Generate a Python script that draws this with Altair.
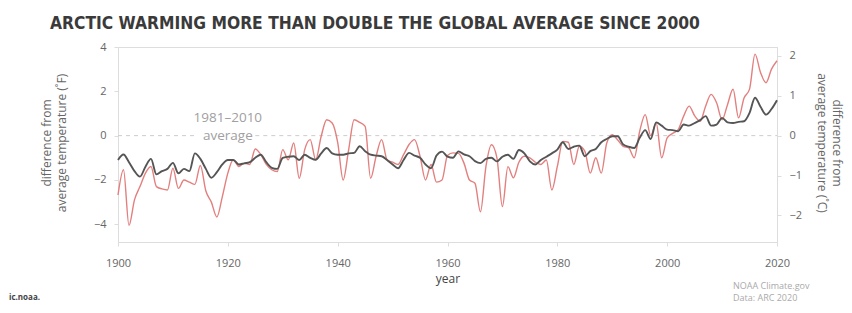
import altair as alt
import pandas as pd

years = list(range(1900, 2021))

global_f = [
    -1.10, -0.85, -1.20, -1.60, -1.85, -1.40, -1.05, -1.75, -1.60, -1.50,
    -1.23, -1.70, -1.50, -1.60, -0.80, -1.05, -1.50, -1.90, -1.65, -1.30,
    -1.10, -1.10, -1.30, -1.25, -1.20, -1.00, -0.86, -1.20, -1.45, -1.50,
    -1.00, -0.95, -0.93, -1.10, -0.86, -1.00, -1.09, -0.80, -0.56, -0.80,
    -0.86, -0.86, -0.80, -0.78, -0.48, -0.70, -0.86, -0.90, -0.93, -1.10,
    -1.30, -1.47, -1.10, -0.78, -0.90, -1.00, -1.30, -1.47, -0.90, -0.72,
    -0.95, -1.00, -0.71, -0.85, -0.93, -1.15, -1.24, -1.05, -1.00, -1.16,
    -0.95, -0.86, -1.05, -0.65, -0.80, -1.16, -1.30, -1.10, -0.95, -0.80,
    -0.63, -0.30, -0.60, -0.50, -0.45, -0.93, -0.70, -0.60, -0.30, -0.15,
    -0.03, -0.03, -0.40, -0.50, -0.56, -0.10, 0.25, -0.15, 0.60, 0.45,
    0.27, 0.25, 0.20, 0.50, 0.45, 0.57, 0.70, 0.88, 0.45, 0.50,
    0.80, 0.60, 0.57, 0.62, 0.65, 1.03, 1.71, 1.30, 0.95, 1.20,
    1.60,
]

arctic_f = [
    -2.68, -1.54, -4.05, -2.90, -2.30, -1.69, -1.39, -2.30, -2.40, -2.45,
    -1.47, -2.38, -2.00, -2.10, -2.20, -1.35, -2.50, -3.00, -3.67, -2.75,
    -1.69, -1.09, -1.39, -1.24, -1.30, -0.60, -0.86, -1.30, -1.54, -1.62,
    -0.63, -1.09, -0.33, -1.92, -0.63, -0.18, -1.09, -0.03, 0.72, 0.57,
    -0.30, -2.00, -0.63, 0.72, 0.60, 0.42, -1.92, -0.93, -0.18, -1.09,
    -1.20, -1.30, -0.86, -0.40, -0.18, -0.93, -2.00, -1.30, -2.10, -2.00,
    -0.90, -0.78, -0.80, -1.24, -2.00, -2.15, -3.44, -1.39, -0.41, -1.00,
    -3.20, -1.40, -1.90, -1.20, -0.93, -1.00, -1.20, -1.30, -1.10, -2.45,
    -1.39, -0.26, -0.30, -1.30, -0.48, -0.70, -1.69, -1.00, -1.69, -0.33,
    0.04, -0.20, -0.48, -0.55, -1.00, 0.20, 0.95, 0.00, 0.57, -1.00,
    -0.10, 0.10, 0.27, 0.88, 1.33, 0.90, 0.65, 1.33, 1.86, 1.48,
    0.72, 1.41, 2.09, 0.80, 1.70, 2.10, 3.68, 2.85, 2.39, 3.00,
    3.38,
]

f_ticks = [-4, -2, 0, 2, 4]
c_ticks = [-2, -1, 0, 1, 2]
x_ticks = [1900, 1920, 1940, 1960, 1980, 2000, 2020]

zero_start = [1900, 1925]
zero_end = [1914, 2020]

W, H = 659, 195
F_DOM = [-4.8, 4.0]
C_DOM = [-4.8 / 1.8, 4.0 / 1.8]
FONT = "Open Sans"

df = pd.DataFrame({"year": years, "global": global_f, "arctic": arctic_f})
zero_df = pd.DataFrame({"a": zero_start, "b": zero_end, "v": [0, 0]})
c_df = pd.DataFrame({"c": c_ticks})

xscale = alt.Scale(domain=[1900, 2020], nice=False, zero=False)
yscale = alt.Scale(domain=F_DOM, nice=False, zero=False)

x_axis = alt.Axis(
    values=x_ticks, format="d", title="year", labelFont=FONT, labelFontSize=11,
    labelColor="#666", titleFont=FONT, titleFontSize=12, titleColor="#444",
    titleFontWeight="normal", domainColor="#ddd", tickColor="#ddd", tickSize=4,
    labelPadding=11, titlePadding=5, grid=False, labelFlush=False,
)

y_axis = alt.Axis(
    values=f_ticks, title=["difference from", "average temperature (˚F)"],
    labelFont=FONT, labelFontSize=11, labelColor="#666", titleFont=FONT,
    titleFontSize=12, titleColor="#666", titleFontWeight="normal",
    domainColor="#ddd", tickColor="#ddd", tickSize=4, labelPadding=8,
    grid=False, titleX=-77, titleY=H / 2 - 2, titleBaseline="top",
    titleAlign="center", titleAngle=-90, titleLineHeight=15,
)

base = alt.Chart(df)

zero = alt.Chart(zero_df).mark_rule(color="#cccccc", strokeDash=[4, 4], strokeWidth=1).encode(
    x=alt.X("a:Q", scale=xscale, axis=x_axis),
    x2="b:Q",
    y=alt.Y("v:Q", scale=yscale, axis=y_axis),
)

arctic = base.mark_line(color="#e2807f", strokeWidth=1.4, interpolate="monotone").encode(
    x=alt.X("year:Q", scale=xscale),
    y=alt.Y("arctic:Q", scale=yscale),
)

glob = base.mark_line(color="#555555", strokeWidth=1.9, interpolate="monotone").encode(
    x=alt.X("year:Q", scale=xscale),
    y=alt.Y("global:Q", scale=yscale),
)

ann_df = pd.DataFrame({"year": [1920, 1920], "v": [0.8, 0.0], "t": ["1981–2010", "average"]})
ann = alt.Chart(ann_df).mark_text(font=FONT, fontSize=13.5, color="#a0a0a0", baseline="middle").encode(
    x=alt.X("year:Q", scale=xscale),
    y=alt.Y("v:Q", scale=yscale),
    text="t:N",
)

left = alt.layer(zero, arctic, glob, ann)

right = alt.Chart(c_df).mark_rule(opacity=0).encode(
    y=alt.Y(
        "c:Q",
        scale=alt.Scale(domain=C_DOM, nice=False, zero=False),
        axis=alt.Axis(
            orient="right", values=c_ticks, title=["difference from", "average temperature (˚C)"],
            labelFont=FONT, labelFontSize=11, labelColor="#666", titleFont=FONT,
            titleFontSize=12, titleColor="#666", titleFontWeight="normal",
            domainColor="#ddd", tickColor="#ddd", tickSize=4, labelPadding=8,
            grid=False, titleX=64, titleY=H / 2 - 2, titleBaseline="top",
            titleAlign="center", titleAngle=90, titleLineHeight=15,
        ),
    ),
)

title = alt.Chart(pd.DataFrame({"t": ["ARCTIC WARMING MORE THAN DOUBLE THE GLOBAL AVERAGE SINCE 2000"]})).mark_text(
    font="Liberation Sans Narrow, DejaVu Sans Condensed, sans-serif", fontSize=17.3, fontWeight="bold",
    color="#3a3a3a", align="left", baseline="alphabetic",
).encode(x=alt.value(-68), y=alt.value(-18), text="t:N")

foot = alt.Chart(pd.DataFrame({"t": ["NOAA Climate.gov", "Data: ARC 2020"], "yy": [239, 251]})).mark_text(
    font=FONT, fontSize=9, color="#aaaaaa", align="left", baseline="middle",
).encode(x=alt.value(615), y=alt.Y("yy:Q", scale=None), text="t:N")

wm = alt.Chart(pd.DataFrame({"t": ["ic.noaa."]})).mark_text(
    font=FONT, fontSize=8, fontWeight="bold", color="#444", align="left", baseline="middle",
).encode(x=alt.value(-109), y=alt.value(251), text="t:N")

chart = alt.layer(left, right, title, foot, wm).resolve_scale(y="independent").properties(
    width=W, height=H,
    autosize=alt.AutoSizeParams(type="none"),
    padding={"left": 110, "top": 39, "right": 67, "bottom": 62},
).configure_view(stroke=None).configure(background="white")

chart.save("out.html", embed_options={"renderer": "svg", "actions": False})
